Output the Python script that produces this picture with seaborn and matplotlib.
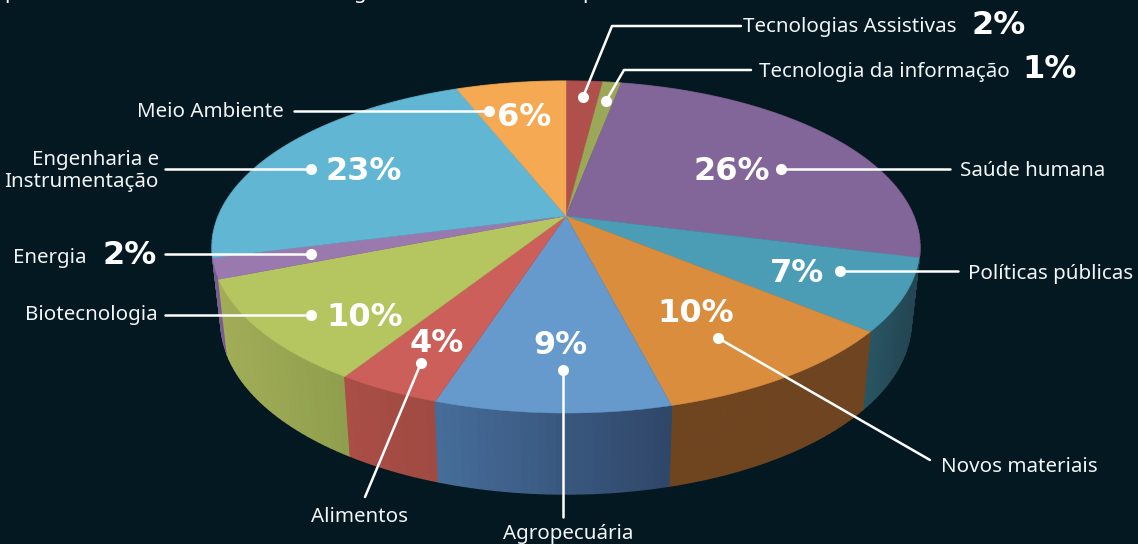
import numpy as np
import matplotlib
matplotlib.use("Agg")
import matplotlib.pyplot as plt
from matplotlib.colors import to_rgb
import seaborn as sns

BG = "#041821"
categories = ["Tecnologias Assistivas", "Tecnologia da informação", "Saúde humana",
              "Políticas públicas", "Novos materiais", "Agropecuária", "Alimentos",
              "Biotecnologia", "Energia", "Engenharia e\nInstrumentação", "Meio Ambiente"]
values = [2, 1, 26, 7, 10, 9, 4, 10, 2, 23, 6]
top_colors = ["#b0504c", "#9aa858", "#826699", "#4a9db5", "#da8e3d", "#6699cc",
              "#cc5f5a", "#b5c55f", "#9a79ae", "#60b6d3", "#f6a953"]
side_left = ["#7a3835", "#6c763e", "#5b476b", "#2a5563", "#6f4520", "#466d9a",
             "#aa4e46", "#a3ad58", "#7a5d90", "#437f94", "#ac763a"]
side_right = ["#7a3835", "#6c763e", "#5b476b", "#234551", "#6e4520", "#2f4668",
              "#9e4a42", "#8f9f4d", "#7a5d90", "#437f94", "#ac763a"]

sns.set_theme(style="dark", rc={"figure.facecolor": BG, "axes.facecolor": BG,
                                "savefig.facecolor": BG})
plt.rcParams["font.family"] = ["Noto Sans", "DejaVu Sans"]

fig = plt.figure(figsize=(11.38, 5.44), dpi=100)
ax = fig.add_axes([0, 0, 1, 1])
ax.set_xlim(0, 1138)
ax.set_ylim(544, 0)
ax.axis("off")

# perspective projection of the pie disc
CX, CY = 566.0, 216.0
A, B, K = 347.7, 160.2, 0.187


def project(frac):
    th = 2 * np.pi * np.asarray(frac)
    x, y = np.sin(th), np.cos(th)
    w = 1 + K * y
    return A * x / w, -B * y / w


def top_xy(frac):
    X, Y = project(frac)
    return CX + X, CY + Y


def bottom_xy(frac):
    X, Y = project(frac)
    return CX + 0.975 * X, CY + 1.037 * Y + 73.7


cum = np.concatenate([[0], np.cumsum(values)]) / np.sum(values)

# side wall: far to near, as thin shaded quads
quads = []
for i in range(len(values)):
    f = np.linspace(cum[i], cum[i + 1], max(3, int(values[i] * 3) + 1))
    c0, c1 = np.array(to_rgb(side_left[i])), np.array(to_rgb(side_right[i]))
    tx, ty = top_xy(f)
    bx, by = bottom_xy(f)
    xmin, xmax = tx.min(), tx.max()
    for j in range(len(f) - 1):
        t = ((tx[j] + tx[j + 1]) / 2 - xmin) / max(xmax - xmin, 1)
        col = c0 * (1 - t) + c1 * t
        depth = (by[j] + by[j + 1]) / 2
        quads.append((depth, [tx[j], tx[j + 1], bx[j + 1], bx[j]],
                      [ty[j], ty[j + 1], by[j + 1], by[j]], col))
quads.sort(key=lambda q: q[0])
for k, (d, qx, qy, col) in enumerate(quads):
    ax.fill(qx, qy, color=col, lw=1.0, zorder=1 + k * 1e-4)

# top face
for i in range(len(values)):
    f = np.linspace(cum[i], cum[i + 1], max(4, int(values[i] * 6)))
    tx, ty = top_xy(f)
    ax.fill(np.r_[CX, tx], np.r_[CY, ty], color=top_colors[i], lw=0.3, zorder=3)

# leader lines, one per category, ending at a dot
leaders = [
    [(583, 97), (612, 26), (741, 26)],
    [(606, 101), (624, 70), (751, 70)],
    [(781, 169), (950, 169)],
    [(840, 271), (958, 271)],
    [(718, 338), (930, 460)],
    [(563, 370), (563, 517)],
    [(421, 363), (365, 497)],
    [(311, 315), (165, 315)],
    [(311, 254), (165, 254)],
    [(311, 169), (165, 169)],
    [(489, 111), (294, 111)],
]
for pts in leaders:
    px, py = zip(*pts)
    ax.plot(px, py, color="white", lw=1.8, zorder=4, solid_joinstyle="round")
    ax.plot(px[0], py[0], "o", color="white", ms=8, mew=0, zorder=5)

# category labels
LABEL = dict(color="#f2f5f6", fontsize=14.8, zorder=6, va="center",
             family=["Noto Sans", "DejaVu Sans"])
label_pos = [
    (743, 27, "left"), (759, 72, "left"), (960, 171, "left"), (968, 274, "left"),
    (941, 467, "left"), (568, 534, "center"), (360, 517, "center"), (158, 315, "right"),
    (13, 258, "left"), (159, 171, "right"), (284, 112, "right"),
]
for name, (x, y, ha) in zip(categories, label_pos):
    ax.text(x, y, name, ha=ha, linespacing=1.2, **LABEL)

# percent labels
pct_pos = [
    (972, 25), (1022, 70), (694, 171), (770, 273), (657, 313), (533, 346),
    (410, 344), (326, 317), (103, 255), (326, 171), (497, 117),
]
for v, (x, y) in zip(values, pct_pos):
    ax.text(x, y, f"{v}%", ha="left", va="center", color="white", fontsize=23,
            fontweight="bold", family="DejaVu Sans", zorder=6)

# descenders of a line of text cut off by the top edge
for x, s in [(4, "p"), (354, "g"), (582, "p")]:
    ax.text(x, -7, s, ha="left", va="center", color="white", fontsize=14.8, zorder=6)

fig.savefig("out.png", dpi=100)
